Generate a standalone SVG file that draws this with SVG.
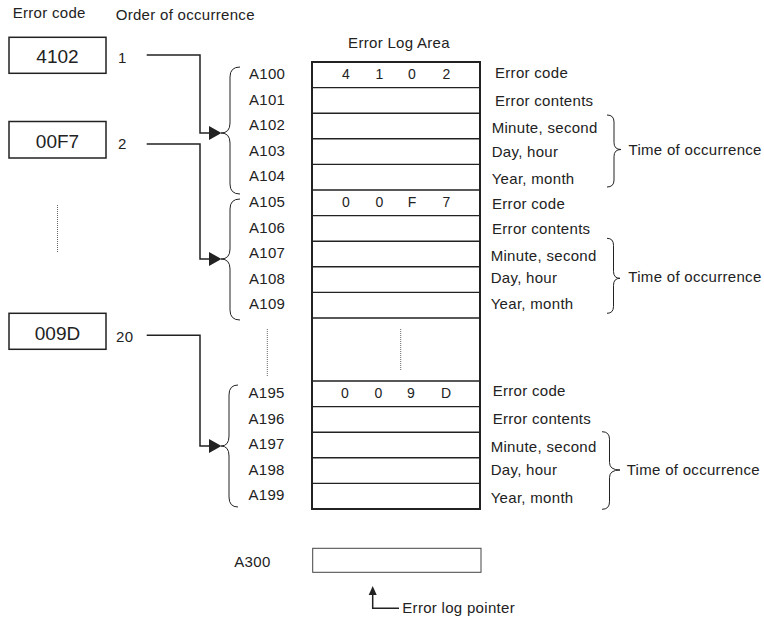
<svg xmlns="http://www.w3.org/2000/svg" width="764" height="618" viewBox="0 0 764 618">
<style>
text{font-family:"Liberation Sans",Arial,sans-serif;fill:#222;}
.t{font-size:15px;letter-spacing:0.3px;}
.big{font-size:19px;text-anchor:middle;}
.dig{font-size:14px;text-anchor:middle;}
.box{fill:#fff;stroke:#222;stroke-width:1.5;}
.row{fill:none;stroke:#222;stroke-width:1.4;}
.outer{fill:none;stroke:#222;stroke-width:2;}
.br{fill:none;stroke:#222;stroke-width:1;}
.con{fill:none;stroke:#222;stroke-width:1.5;}
.dot{fill:none;stroke:#666;stroke-width:1;stroke-dasharray:1,1;}
.ah{fill:#222;stroke:none;}
</style>
<g id="headers">
<text class="t" x="12.7" y="17.5">Error code</text>
<text class="t" x="115.7" y="20">Order of occurrence</text>
</g>
<g id="code-4102">
<rect class="box" x="9" y="37.3" width="97" height="36"/>
<text class="big" x="57.5" y="63">4102</text>
<text class="t" x="118" y="63">1</text>
</g>
<g id="code-00F7">
<rect class="box" x="9" y="121.5" width="97" height="36.5"/>
<text class="big" x="57.5" y="147.5">00F7</text>
<text class="t" x="118" y="149">2</text>
</g>
<g id="code-009D">
<rect class="box" x="9" y="313.3" width="97" height="36"/>
<text class="big" x="57.5" y="339.5">009D</text>
<text class="t" x="116" y="341.5">20</text>
</g>
<g id="dots-left">
<line class="dot" x1="57.5" y1="205" x2="57.5" y2="253"/>
<line class="dot" x1="267.3" y1="329" x2="267.3" y2="377"/>
</g>
<g id="error-log-area">
<text class="t" x="399" y="48.3" text-anchor="middle">Error Log Area</text>
<path class="row" d="M312,87.6H480M312,113.2H480M312,138.8H480M312,164.4H480M312,190H480M312,215.6H480M312,241.2H480M312,266.8H480M312,292.4H480M312,318H480M312,381H480M312,406.6H480M312,432.2H480M312,457.8H480M312,483.4H480"/>
<rect class="outer" x="312" y="62" width="168" height="447"/>
<line class="dot" x1="400.7" y1="329" x2="400.7" y2="370"/>
<g class="dig-row">
<text class="dig" x="346" y="79">4</text><text class="dig" x="379.5" y="79">1</text><text class="dig" x="412" y="79">0</text><text class="dig" x="446.5" y="79">2</text>
<text class="dig" x="346" y="207">0</text><text class="dig" x="379.5" y="207">0</text><text class="dig" x="412" y="207">F</text><text class="dig" x="446.5" y="207">7</text>
<text class="dig" x="345" y="397.5">0</text><text class="dig" x="378.5" y="397.5">0</text><text class="dig" x="411" y="397.5">9</text><text class="dig" x="446" y="397.5">D</text>
</g>
</g>
<g id="addresses">
<text class="t" x="249" y="79">A100</text>
<text class="t" x="249" y="104.6">A101</text>
<text class="t" x="249" y="130">A102</text>
<text class="t" x="249" y="155.8">A103</text>
<text class="t" x="249" y="181.4">A104</text>
<text class="t" x="249" y="207">A105</text>
<text class="t" x="249" y="232.6">A106</text>
<text class="t" x="249" y="258.2">A107</text>
<text class="t" x="249" y="283.8">A108</text>
<text class="t" x="249" y="309.4">A109</text>
<text class="t" x="248.5" y="398">A195</text>
<text class="t" x="248.5" y="423.6">A196</text>
<text class="t" x="248.5" y="449.2">A197</text>
<text class="t" x="248.5" y="474.8">A198</text>
<text class="t" x="248.5" y="500.4">A199</text>
</g>
<g id="left-braces">
<path class="br" d="M240,67Q230,67 230,77L230,123Q230,133 221,133Q230,133 230,143L230,184Q230,194 240,194"/>
<path class="br" d="M240,199Q230,199 230,209L230,249Q230,259 221,259Q230,259 230,269L230,310Q230,320 240,320"/>
<path class="br" d="M238,385Q229,385 229,395L229,436Q229,446 221,446Q229,446 229,456L229,497Q229,507 238,507"/>
</g>
<g id="descriptions-1">
<text class="t" x="495" y="78.3">Error code</text>
<text class="t" x="495" y="105.7">Error contents</text>
<text class="t" x="491.7" y="132.7">Minute, second</text>
<text class="t" x="491.7" y="156.7">Day, hour</text>
<text class="t" x="491.7" y="184">Year, month</text>
<path class="br" d="M607,115Q614,115 614,122L614,142.5Q614,149.5 621,149.5Q614,149.5 614,156.5L614,180Q614,187 607,187"/>
<text class="t" x="628.5" y="155">Time of occurrence</text>
</g>
<g id="descriptions-2">
<text class="t" x="492" y="208.8">Error code</text>
<text class="t" x="492" y="234">Error contents</text>
<text class="t" x="490.7" y="260.7">Minute, second</text>
<text class="t" x="490.7" y="283">Day, hour</text>
<text class="t" x="490.7" y="308.5">Year, month</text>
<path class="br" d="M607,238.3Q613.5,238.3 613.5,245.3L613.5,271.3Q613.5,278.3 620,278.3Q613.5,278.3 613.5,285.3L613.5,306.3Q613.5,313.3 607,313.3"/>
<text class="t" x="628.3" y="281.7">Time of occurrence</text>
</g>
<g id="descriptions-3">
<text class="t" x="492.7" y="395.5">Error code</text>
<text class="t" x="492.7" y="424">Error contents</text>
<text class="t" x="490.7" y="451.7">Minute, second</text>
<text class="t" x="490.7" y="474.5">Day, hour</text>
<text class="t" x="490.7" y="502.7">Year, month</text>
<path class="br" d="M602,431.7Q609.5,431.7 609.5,439.2L609.5,462.5Q609.5,470 620,470Q609.5,470 609.5,477.5L609.5,501.8Q609.5,509.3 602,509.3"/>
<text class="t" x="626.7" y="475">Time of occurrence</text>
</g>
<g id="pointer-A300">
<text class="t" x="234.3" y="566.7">A300</text>
<rect x="312.7" y="548.3" width="168.3" height="24" fill="#fff" stroke="#444" stroke-width="1"/>
</g>
<g id="connectors">
<path class="con" d="M146.7,55H200V133H210"/>
<polygon class="ah" points="209,126 221.5,133 209,140"/>
<path class="con" d="M146.7,144H200V259H210"/>
<polygon class="ah" points="209,252 221.5,259 209,266"/>
<path class="con" d="M146.7,335.3H200V446H210"/>
<polygon class="ah" points="209,439 221.5,446 209,453"/>
<path class="con" d="M372.7,594V608.3H399" stroke-width="1.2"/>
<polygon class="ah" points="368.7,595 372.7,586 376.7,595"/>
<text class="t" x="402.3" y="612.7">Error log pointer</text>
</g>
</svg>
